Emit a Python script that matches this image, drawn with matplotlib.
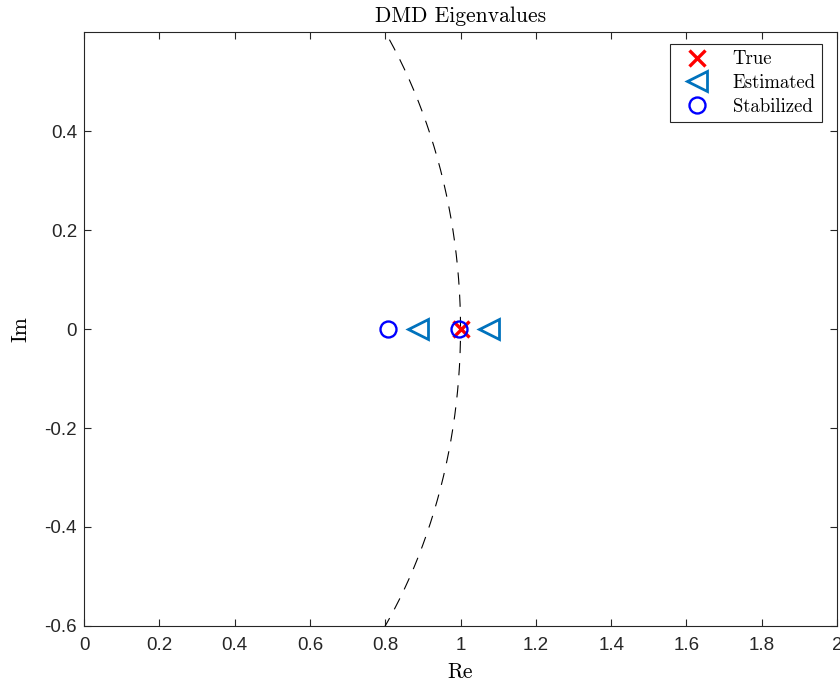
import numpy as np
import matplotlib.pyplot as plt

# eigenvalues
true_re = [1.0]
true_im = [0.0]
est_re = [0.887, 1.075]
est_im = [0.0, 0.0]
stab_re = [0.808, 0.997]
stab_im = [0.0, 0.0]

xticks = [0, 0.2, 0.4, 0.6, 0.8, 1, 1.2, 1.4, 1.6, 1.8, 2]
yticks = [-0.6, -0.4, -0.2, 0, 0.2, 0.4]

serif = 'cmr10'
sans = ['Liberation Sans', 'DejaVu Sans']

fig = plt.figure(figsize=(8.4, 6.83), dpi=100)
ax = fig.add_axes([0.1, 0.0835, 0.8965, 0.8695])

# unit circle
th = np.linspace(0, 2 * np.pi, 1000)
ax.plot(np.cos(th), np.sin(th), '--', color='k', lw=0.8, dashes=(11, 9))

ax.plot(true_re, true_im, 'x', color='r', ms=11, mew=2.4, ls='none', label='True')
ax.plot(est_re, est_im, '<', color='#0072BD', ms=15, mew=2, mfc='none',
        ls='none', label='Estimated')
ax.plot(stab_re, stab_im, 'o', color='b', ms=11.5, mew=1.7, mfc='none',
        ls='none', label='Stabilized')

ax.set_xlim(0, 2)
ax.set_ylim(-0.6, 0.6)
ax.set_xticks(xticks)
ax.set_xticklabels([f'{v:g}' for v in xticks], fontfamily=sans)
ax.set_yticks(yticks)
ax.set_yticklabels([f'{v:g}' for v in yticks], fontfamily=sans)
ax.tick_params(direction='in', top=True, right=True, length=5, width=0.8,
               labelsize=13.5, colors='#262626', labelcolor='#262626')
ax.tick_params(axis='x', pad=8)
ax.tick_params(axis='y', pad=5)
for s in ax.spines.values():
    s.set_color('#262626')
    s.set_linewidth(0.8)

ax.set_title('DMD Eigenvalues', fontfamily=serif, fontsize=15.5, pad=7)
ax.set_xlabel('Re', fontfamily=serif, fontsize=15.5, labelpad=6)
ax.set_ylabel('Im', fontfamily=serif, fontsize=15.5, labelpad=10)

leg = ax.legend(loc='upper right', bbox_to_anchor=(0.9805, 0.98),
                prop={'family': serif, 'size': 13.5},
                fancybox=False, edgecolor='#262626', framealpha=1,
                borderaxespad=0, handletextpad=0.8, labelspacing=0.3,
                borderpad=0.35, handlelength=2.2)
leg.get_frame().set_linewidth(0.8)

fig.savefig('out.png', dpi=100)
